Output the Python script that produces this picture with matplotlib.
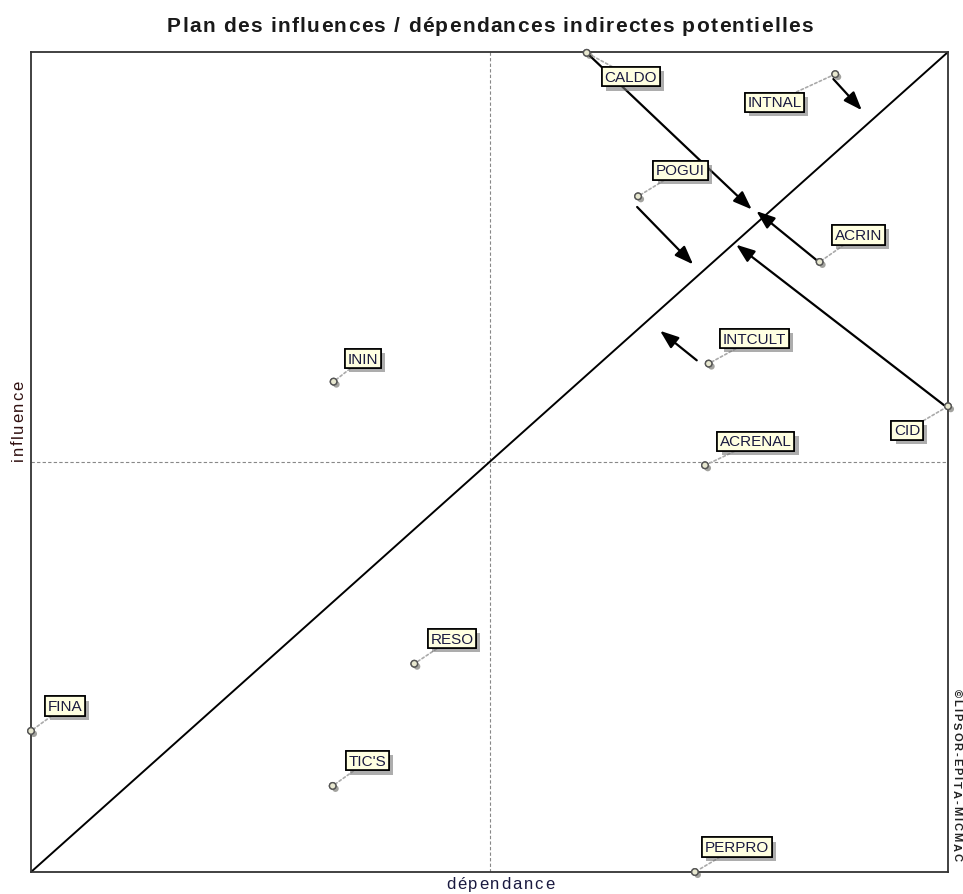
import matplotlib.pyplot as plt
import matplotlib.patheffects as pe
from matplotlib.font_manager import FontProperties

# positions (0..1 sur les deux axes)
noms = ["CALDO", "INTNAL", "POGUI", "ACRIN", "INTCULT", "ININ", "CID",
        "ACRENAL", "RESO", "FINA", "TIC'S", "PERPRO"]
dep = [0.606, 0.877, 0.662, 0.860, 0.739, 0.330, 1.000, 0.735, 0.418, 0.000, 0.329, 0.724]
infl = [0.999, 0.973, 0.824, 0.744, 0.620, 0.598, 0.568, 0.496, 0.254, 0.172, 0.105, 0.000]

# decalage des etiquettes (pixels)
dx_lab = [18, -88, 18, 15, 14, 14, -54, 15, 16, 17, 16, 10]
dy_lab = [-31, -35, 19, 20, 18, 16, -31, 17, 18, 18, 18, 18]

# fleches de deplacement
fl_x0 = [0.606, 0.875, 0.661, 0.858, 0.726, 0.996]
fl_y0 = [0.999, 0.967, 0.811, 0.745, 0.624, 0.569]
fl_x1 = [0.786, 0.906, 0.722, 0.791, 0.686, 0.769]
fl_y1 = [0.808, 0.929, 0.741, 0.806, 0.660, 0.765]

titre = "Plan des influences / dépendances indirectes potentielles"
xlab = "dépendance"
ylab = "influence"
copyright_txt = "©LIPSOR-EPITA-MICMAC"

W, H = 963, 895
plt.rcParams['font.family'] = ['Liberation Sans', 'DejaVu Sans']

fig = plt.figure(figsize=(W/100, H/100), dpi=100)
ax = fig.add_axes([31/W, 1-873/H, 917/W, 820/H])
ax.set_xlim(0, 1)
ax.set_ylim(0, 1)
ax.set_xticks([])
ax.set_yticks([])
for s in ax.spines.values():
    s.set_linewidth(1.3)
    s.set_color('#333333')

ax.axvline(0.5, color='#888888', ls=(0, (3, 2)), lw=0.8)
ax.axhline(0.5, color='#888888', ls=(0, (3, 2)), lw=0.8)
ax.plot([0, 1], [0, 1], color='black', lw=1.4)

for i in range(len(fl_x0)):
    ax.annotate("", xy=(fl_x1[i], fl_y1[i]), xytext=(fl_x0[i], fl_y0[i]),
                arrowprops=dict(arrowstyle='-|>,head_width=0.3,head_length=0.8', color='black',
                                lw=1.6, mutation_scale=14, shrinkA=0, shrinkB=0))

for i in range(len(noms)):
    t = ax.annotate(noms[i], xy=(dep[i], infl[i]),
                    xytext=(dx_lab[i], dy_lab[i]), textcoords='offset pixels',
                    ha='left', va='bottom', fontsize=11, color='#1a1a40',
                    annotation_clip=False, zorder=5,
                    bbox=dict(boxstyle='square,pad=0.17', fc='#ffffe1', ec='black', lw=1.2),
                    arrowprops=dict(arrowstyle='-', color='#aaaaaa', lw=1.2,
                                    ls=(0, (1.5, 1.5)), shrinkA=0, shrinkB=3))
    t.get_bbox_patch().set_path_effects([
        pe.withSimplePatchShadow(offset=(3, -3), shadow_rgbFace='#777777', alpha=0.6),
        pe.Normal()])

ax.scatter(dep, infl, s=22, facecolor='#e8e8d0', edgecolor='#555555',
           lw=1.0, zorder=6, clip_on=False,
           path_effects=[pe.withSimplePatchShadow(offset=(2, -2), alpha=0.5), pe.Normal()])


def texte_espace(s, cx, cy, taille, gras=False, esp=2.5, rot=0, couleur='#222222'):
    # texte avec espacement des lettres, cx/cy en pixels depuis le haut, cy = ligne de base
    r = fig.canvas.get_renderer()
    prop = FontProperties(family=['Liberation Sans', 'DejaVu Sans'], size=taille,
                          weight='bold' if gras else 'normal')

    def larg(t):
        return r.get_text_width_height_descent(t, prop, ismath=False)[0]
    base = larg("xx")
    avs = [larg("x" + c + "x") - base for c in s]
    total = sum(avs) + esp * (len(s) - 1)
    pos = -total / 2
    for c, a in zip(s, avs):
        if rot == 0:
            x, y = cx + pos, cy
        elif rot == 90:
            x, y = cx, cy - pos
        else:
            x, y = cx, cy + pos
        fig.text(x / W, 1 - y / H, c, fontproperties=prop, color=couleur,
                 rotation=rot, rotation_mode='anchor', ha='left', va='baseline')
        pos += a + esp


texte_espace(titre, 490, 32, 15, gras=True, esp=1.3, couleur='#1a1a1a')
texte_espace(xlab, 500, 889, 12, esp=1.8, couleur='#1a1a40')
texte_espace(ylab, 23, 421, 12, esp=1.6, rot=90, couleur='#301010')
texte_espace(copyright_txt, 953, 775, 8, gras=True, esp=1.9, rot=-90, couleur='#222222')

fig.savefig("out.png", dpi=100)
